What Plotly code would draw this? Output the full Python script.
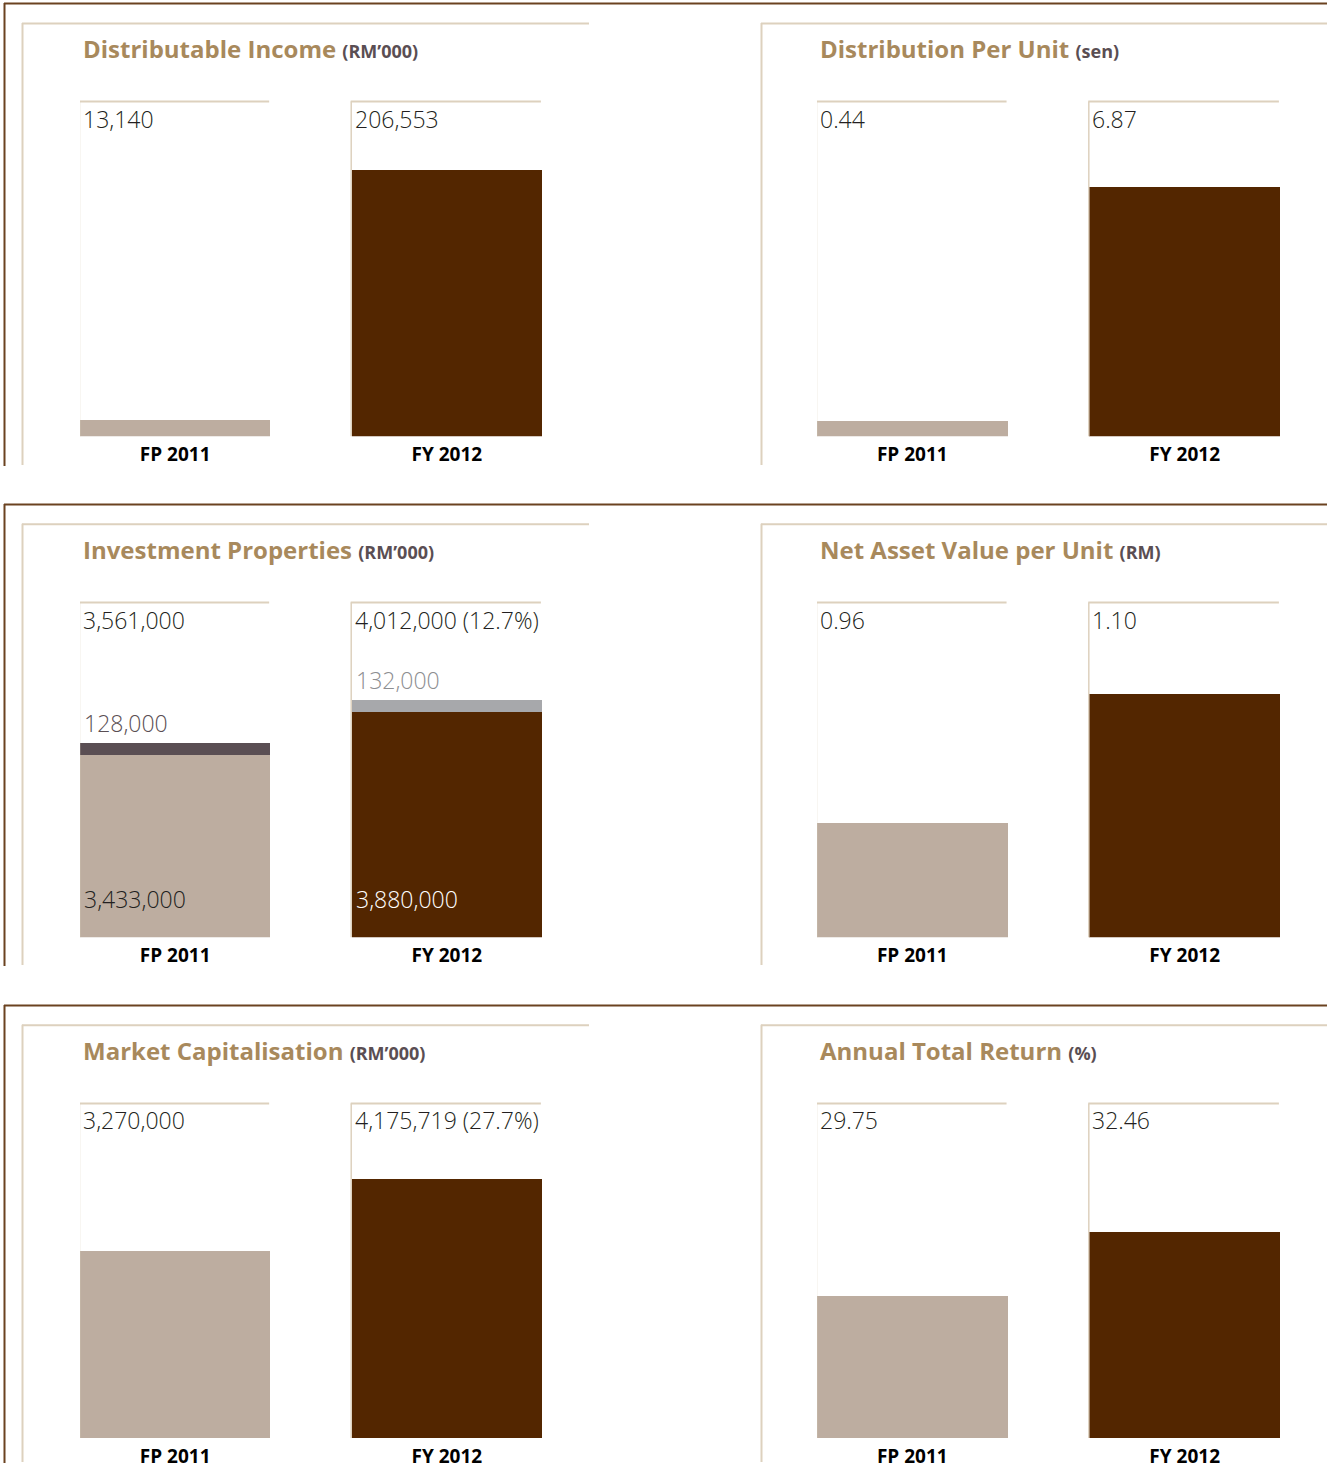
import plotly.graph_objects as go

# ---------------- data ----------------
categories = ["FP 2011", "FY 2012"]

titles = ["Distributable Income", "Distribution Per Unit", "Investment Properties",
          "Net Asset Value per Unit", "Market Capitalisation", "Annual Total Return"]
units = ["(RM’000)", "(sen)", "(RM’000)", "(RM)", "(RM’000)", "(%)"]

distributable_income = [13140, 206553]          # RM'000
distribution_per_unit = [0.44, 6.87]            # sen
inv_prop_base = [3433000, 3880000]              # RM'000
inv_prop_added = [128000, 132000]               # RM'000
nav_per_unit = [0.96, 1.10]                     # RM
market_cap = [3270000, 4175719]                 # RM'000
annual_total_return = [29.75, 32.46]            # %

# ---------------- style ----------------
W, H = 1335, 1469
FP_COLOR = "#bdada0"
FY_COLOR = "#532600"
ADD_COLORS = ["#5a4e53", "#a7a8ab"]
FRAME = "#ddd1be"
BROWN = "#6b4220"
TITLE_C = "#a8895c"
UNIT_C = "#5a4e53"
TEXT_C = "#231f20"
FONT = "Open Sans"


def fx(p):
    return p / W


def fy(p):
    return 1 - p / H


col_x = [(80, 542), (817, 1280)]
row_off = [0, 503, 1006]
FRAME_TOP, BAR_BOTTOM = 102, 438
HALF = 0.35


def money(v):
    return f"{v:,}"


def growth(a, b):
    return f"({(b - a) / a * 100:.1f}%)"


inv_total = [b + a for b, a in zip(inv_prop_base, inv_prop_added)]

panels = [
    dict(vals=distributable_income, labels=[money(v) for v in distributable_income],
         yr=[0, 259158]),
    dict(vals=distribution_per_unit, labels=[f"{v:.2f}" for v in distribution_per_unit],
         yr=[0, 9.206]),
    dict(vals=None, labels=[money(inv_total[0]),
                            money(inv_total[1]) + " " + growth(inv_total[0], inv_total[1])],
         yr=[1515800, 5029405]),
    dict(vals=nav_per_unit, labels=[f"{v:.2f}" for v in nav_per_unit], yr=[0.835, 1.199]),
    dict(vals=market_cap, labels=[money(market_cap[0]),
                                  money(market_cap[1]) + " " + growth(market_cap[0], market_cap[1])],
         yr=[917660, 5131741]),
    dict(vals=annual_total_return, labels=[f"{v:.2f}" for v in annual_total_return],
         yr=[23.74, 37.925]),
]

fig = go.Figure()
shapes = []
annotations = []
layout = {}

for i, p in enumerate(panels):
    n = i + 1
    r, c = divmod(i, 2)
    off = row_off[r]
    xs = "" if n == 1 else str(n)
    xa, ya = f"x{xs}", f"y{xs}"

    if p["vals"] is not None:
        fig.add_trace(go.Bar(x=categories, y=p["vals"], width=2 * HALF,
                             marker=dict(color=[FP_COLOR, FY_COLOR], line=dict(width=0)),
                             xaxis=xa, yaxis=ya, showlegend=False, hoverinfo="x+y"))
    else:
        fig.add_trace(go.Bar(x=categories, y=inv_prop_base, width=2 * HALF,
                             marker=dict(color=[FP_COLOR, FY_COLOR], line=dict(width=0)),
                             xaxis=xa, yaxis=ya, showlegend=False, hoverinfo="x+y"))
        fig.add_trace(go.Bar(x=categories, y=inv_prop_added, width=2 * HALF,
                             marker=dict(color=ADD_COLORS, line=dict(width=0)),
                             xaxis=xa, yaxis=ya, showlegend=False, hoverinfo="x+y"))
        base_colors = [TEXT_C, "#ffffff"]
        for j in range(2):
            annotations.append(dict(
                xref=xa, yref=f"{ya} domain", x=j - HALF, y=0, xanchor="left", yanchor="bottom",
                xshift=2, yshift=20, text=money(inv_prop_base[j]), showarrow=False,
                font=dict(family=FONT, size=23, color=base_colors[j], weight=300)))
            annotations.append(dict(
                xref=xa, yref=ya, x=j - HALF, y=inv_total[j], xanchor="left", yanchor="bottom",
                xshift=2, yshift=1, text=money(inv_prop_added[j]), showarrow=False,
                font=dict(family=FONT, size=23, color=["#5a4e53", "#8d8e91"][j], weight=300)))

    x0, x1 = col_x[c]
    layout[f"xaxis{xs}"] = dict(
        domain=[fx(x0), fx(x1)], anchor=ya, type="category", range=[-HALF, 1 + HALF],
        showgrid=False, zeroline=False, showline=False, ticks="", fixedrange=True,
        tickfont=dict(family=FONT, size=19, color="#000000", weight=700),
        ticklabelstandoff=5)
    layout[f"yaxis{xs}"] = dict(
        domain=[fy(BAR_BOTTOM + off), fy(FRAME_TOP + off)], anchor=xa, range=p["yr"],
        visible=False, fixedrange=True)

    # frames around each bar (top and left edges)
    for j in range(2):
        shapes.append(dict(type="line", xref=xa, yref=f"{ya} domain",
                           x0=j - HALF - 0.004, x1=j + HALF - 0.004, y0=1, y1=1,
                           line=dict(color=FRAME, width=2)))
        shapes.append(dict(type="line", xref=xa, yref=f"{ya} domain",
                           x0=j - HALF - 0.002, x1=j - HALF - 0.002, y0=0, y1=1,
                           line=dict(color=FRAME, width=1.5)))
        annotations.append(dict(
            xref=xa, yref=f"{ya} domain", x=j - HALF, y=1, xanchor="left", yanchor="top",
            xshift=1, yshift=1, text=p["labels"][j], showarrow=False,
            font=dict(family=FONT, size=23, color=TEXT_C, weight=300)))

    # panel title
    tx = 81 if c == 0 else 818
    annotations.append(dict(
        xref="paper", yref="paper", x=fx(tx), y=fy(49 + off), xanchor="left", yanchor="middle",
        showarrow=False,
        text=f"<b>{titles[i]}</b> <span style='font-size:18px;color:{UNIT_C}'><b>{units[i]}</b></span>",
        font=dict(family=FONT, size=24, color=TITLE_C)))

# panel decoration lines (paper coordinates)
bottoms = [468, 970, 1469]
for r, off in enumerate(row_off):
    # brown outer frame
    shapes.append(dict(type="line", xref="paper", yref="paper",
                       x0=fx(4), x1=fx(1327), y0=fy(3.5 + off), y1=fy(3.5 + off),
                       line=dict(color=BROWN, width=2)))
    shapes.append(dict(type="line", xref="paper", yref="paper",
                       x0=fx(4.5), x1=fx(4.5), y0=fy(3 + off), y1=fy(bottoms[r]),
                       line=dict(color=BROWN, width=2)))
    # beige inner frames
    for lx, rx in [(22, 589), (761, 1327)]:
        shapes.append(dict(type="line", xref="paper", yref="paper",
                           x0=fx(lx), x1=fx(rx), y0=fy(23.5 + off), y1=fy(23.5 + off),
                           line=dict(color=FRAME, width=2)))
        shapes.append(dict(type="line", xref="paper", yref="paper",
                           x0=fx(lx + 0.5), x1=fx(lx + 0.5), y0=fy(23 + off), y1=fy(bottoms[r] - 1),
                           line=dict(color=FRAME, width=2)))

fig.update_layout(
    width=W, height=H, margin=dict(l=0, r=0, t=0, b=0),
    paper_bgcolor="white", plot_bgcolor="rgba(0,0,0,0)",
    barmode="stack", bargap=0, showlegend=False,
    shapes=shapes, annotations=annotations,
    font=dict(family=FONT),
    **layout,
)

fig.write_html("out.html")
